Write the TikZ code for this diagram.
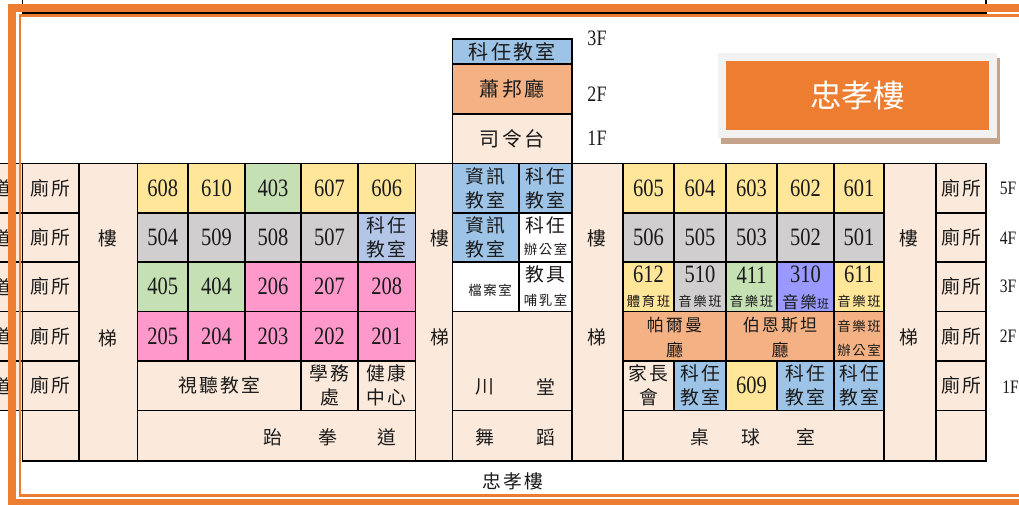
\documentclass[tikz,border=0pt]{standalone}
\usepackage{fontspec}
\setmainfont{Liberation Serif}
\newfontfamily\zh[LetterSpace=12]{Noto Sans CJK TC}
\newfontfamily\zhplain{Noto Sans CJK TC}
\newfontfamily\dg[FakeStretch=0.82]{Liberation Serif}
\definecolor{cyel}{HTML}{FFE699}
\definecolor{cgry}{HTML}{D0CECE}
\definecolor{cgrn}{HTML}{C5E0B3}
\definecolor{cpnk}{HTML}{FF99CC}
\definecolor{cblu}{HTML}{9DC3E6}
\definecolor{clbl}{HTML}{B4C6E7}
\definecolor{corg}{HTML}{F4B183}
\definecolor{cpch}{HTML}{FBE9DB}
\definecolor{cvio}{HTML}{9999FF}
\definecolor{cfrm}{HTML}{ED7D31}
\definecolor{cshd}{HTML}{C5A38A}
\definecolor{cink}{HTML}{1A1A1A}
\newcommand{\szm}{\zh\fontsize{18.8}{22}\selectfont}
\newcommand{\szl}{\zh\fontsize{20}{24}\selectfont}
\newcommand{\szh}{\zh\fontsize{17}{20}\selectfont}
\newcommand{\szs}{\zh\fontsize{13.4}{16}\selectfont}
\newcommand{\szd}{\dg\fontsize{25}{28}\selectfont}
\newcommand{\szf}{\dg\fontsize{19}{22}\selectfont}
\newcommand{\szt}{\dg\fontsize{22}{25}\selectfont}
\def\yA{163.5}\def\yB{213}\def\yC{262}\def\yD{311.5}\def\yE{361}\def\yF{410.5}\def\yG{461}
\tikzset{
  room/.style={draw=black,line width=1.9pt,inner sep=0pt,outer sep=0pt,font=\szd,text=cink},
  lbl/.style={inner sep=0pt,outer sep=0pt,font=\szm,text=cink},
  yel/.style={fill=cyel},gry/.style={fill=cgry},grn/.style={fill=cgrn},pnk/.style={fill=cpnk},
  blu/.style={fill=cblu},lbu/.style={fill=clbl},org/.style={fill=corg},pch/.style={fill=cpch},
  vio/.style={fill=cvio},wht/.style={fill=white}
}
\newcommand{\room}[7][]{%
  \pgfmathsetmacro\cw{#5-#3}\pgfmathsetmacro\ch{#6-#4}%
  \pgfmathsetmacro\cx{(#3+#5)/2}\pgfmathsetmacro\cy{(#4+#6)/2}%
  \node[room,#1,minimum width=\cw pt,minimum height=\ch pt] (#2) at (\cx,\cy) {#7};}
\newcommand{\twin}[8][]{%
  \room[#1]{#2}{#3}{#4}{#5}{#6}{}%
  \pgfmathsetmacro\tx{(#3+#5)/2}\pgfmathsetmacro\ta{(#4+#6)/2-\upo}\pgfmathsetmacro\tb{(#4+#6)/2+\dno}%
  \node[lbl] (#2-a) at (\tx,\ta) {#7};
  \node[lbl] (#2-b) at (\tx,\tb) {#8};}
\def\upo{12}\def\dno{12}
\begin{document}
\begin{tikzpicture}[x=1pt,y=-1pt]
\useasboundingbox (0,0) rectangle (1019,504);
\clip (0,0) rectangle (1019,504);
% top black remnant
\draw[line width=1.5pt] (22.7,-5) -- (22.7,13) -- (986,13) -- (986,-5);
% top block
\room[blu]{topa}{452.5}{39}{572}{64}{\szl 科任教室}
\room[org]{topb}{452.5}{64}{572}{114}{\szl 蕭邦廳}
\room[pch]{topc}{452.5}{114}{572}{\yA}{\szl 司令台}
\node[lbl,font=\szt] (f3t) at (597,38) {3F};
\node[lbl,font=\szt] (f2t) at (597,94) {2F};
\node[lbl,font=\szt] (f1t) at (597,138) {1F};
% left clipped corridor
\room[pch]{d5}{-10}{\yA}{22.5}{\yB}{}
\room[pch]{d4}{-10}{\yB}{22.5}{\yC}{}
\room[pch]{d3}{-10}{\yC}{22.5}{\yD}{}
\room[pch]{d2}{-10}{\yD}{22.5}{\yE}{}
\room[pch]{d1}{-10}{\yE}{22.5}{\yF}{}
\node[lbl] (dt5) at (2,188) {道};
\node[lbl] (dt4) at (2,238) {道};
\node[lbl] (dt3) at (2,287) {道};
\node[lbl] (dt2) at (2,336) {道};
\node[lbl] (dt1) at (2,386) {道};
% left toilets
\room[pch]{wl5}{22.5}{\yA}{79}{\yB}{\szm 廁所}
\room[pch]{wl4}{22.5}{\yB}{79}{\yC}{\szm 廁所}
\room[pch]{wl3}{22.5}{\yC}{79}{\yD}{\szm 廁所}
\room[pch]{wl2}{22.5}{\yD}{79}{\yE}{\szm 廁所}
\room[pch]{wl1}{22.5}{\yE}{79}{\yF}{\szm 廁所}
\room[pch]{wl0}{22.5}{\yF}{79}{\yG}{}
% stairs
\room[pch]{st1}{79}{\yA}{137.5}{\yG}{}
\room[pch]{st2}{415.5}{\yA}{452.5}{\yG}{}
\room[pch]{st3}{572}{\yA}{623}{\yG}{}
\room[pch]{st4}{884}{\yA}{936}{\yG}{}
\node[lbl] (s1a) at (108,238) {樓}; \node[lbl] (s1b) at (108,338) {梯};
\node[lbl] (s2a) at (440,238) {樓}; \node[lbl] (s2b) at (440,337) {梯};
\node[lbl] (s3a) at (597,238) {樓}; \node[lbl] (s3b) at (597,337) {梯};
\node[lbl] (s4a) at (909,238) {樓}; \node[lbl] (s4b) at (909,337) {梯};
% 5F
\room[yel]{r608}{137.5}{\yA}{188}{\yB}{608}
\room[yel]{r610}{188}{\yA}{245}{\yB}{610}
\room[grn]{r403}{245}{\yA}{301}{\yB}{403}
\room[yel]{r607}{301}{\yA}{358}{\yB}{607}
\room[yel]{r606}{358}{\yA}{415.5}{\yB}{606}
\twin[blu]{ca}{452.5}{\yA}{519}{\yB}{資訊}{教室}
\twin[blu]{cb}{519}{\yA}{572}{\yB}{科任}{教室}
\room[yel]{r605}{623}{\yA}{674}{\yB}{605}
\room[yel]{r604}{674}{\yA}{726}{\yB}{604}
\room[yel]{r603}{726}{\yA}{777}{\yB}{603}
\room[yel]{r602}{777}{\yA}{834}{\yB}{602}
\room[yel]{r601}{834}{\yA}{884}{\yB}{601}
% 4F
\room[gry]{r504}{137.5}{\yB}{188}{\yC}{504}
\room[gry]{r509}{188}{\yB}{245}{\yC}{509}
\room[gry]{r508}{245}{\yB}{301}{\yC}{508}
\room[gry]{r507}{301}{\yB}{358}{\yC}{507}
\twin[lbu]{cc}{358}{\yB}{415.5}{\yC}{科任}{教室}
\twin[blu]{cd}{452.5}{\yB}{519}{\yC}{資訊}{教室}
\twin[wht]{ce}{519}{\yB}{572}{\yC}{科任}{\szs 辦公室}
\room[gry]{r506}{623}{\yB}{674}{\yC}{506}
\room[gry]{r505}{674}{\yB}{726}{\yC}{505}
\room[gry]{r503}{726}{\yB}{777}{\yC}{503}
\room[gry]{r502}{777}{\yB}{834}{\yC}{502}
\room[gry]{r501}{834}{\yB}{884}{\yC}{501}
% 3F
\room[grn]{r405}{137.5}{\yC}{188}{\yD}{405}
\room[grn]{r404}{188}{\yC}{245}{\yD}{404}
\room[pnk]{r206}{245}{\yC}{301}{\yD}{206}
\room[pnk]{r207}{301}{\yC}{358}{\yD}{207}
\room[pnk]{r208}{358}{\yC}{415.5}{\yD}{208}
\room[wht]{cf}{452.5}{\yC}{519}{\yD}{}
\node[lbl,font=\szs] (cft) at (490,290) {檔案室};
\def\upo{12}\def\dno{13.5}
\twin[wht]{cg}{519}{\yC}{572}{\yD}{教具}{\szs 哺乳室}
\def\upo{12}\def\dno{15}
\twin[yel]{r612}{623}{\yC}{674}{\yD}{\szd 612}{\szs 體育班}
\twin[gry]{r510}{674}{\yC}{726}{\yD}{\szd 510}{\szs 音樂班}
\twin[grn]{r411}{726}{\yC}{777}{\yD}{\szd 411}{\szs 音樂班}
\twin[vio]{r310}{777}{\yC}{834}{\yD}{\szd 310}{\zh\fontsize{16.5}{18}\selectfont 音樂\fontsize{12}{18}\selectfont 班}
\twin[yel]{r611}{834}{\yC}{884}{\yD}{\szd 611}{\szs 音樂班}
% 2F
\room[pnk]{r205}{137.5}{\yD}{188}{\yE}{205}
\room[pnk]{r204}{188}{\yD}{245}{\yE}{204}
\room[pnk]{r203}{245}{\yD}{301}{\yE}{203}
\room[pnk]{r202}{301}{\yD}{358}{\yE}{202}
\room[pnk]{r201}{358}{\yD}{415.5}{\yE}{201}
\def\upo{11}\def\dno{14}
\twin[org]{ch}{623}{\yD}{726}{\yE}{\szh 帕爾曼}{\szh 廳}
\twin[org]{ci}{726}{\yD}{834}{\yE}{\szh 伯恩斯坦}{\szh 廳}
\def\upo{10}\def\dno{14}
\twin[org]{cj}{834}{\yD}{884}{\yE}{\szs 音樂班}{\szs 辦公室}
% 1F
\def\upo{12}\def\dno{12}
\room[pch]{ck}{137.5}{\yE}{301}{\yF}{\szm 視聽教室}
\twin[pch]{cl}{301}{\yE}{358}{\yF}{學務}{處}
\twin[pch]{cm}{358}{\yE}{415.5}{\yF}{健康}{中心}
\room[pch]{cn}{452.5}{\yD}{572}{\yF}{}
\node[lbl] (cna) at (485,387) {川}; \node[lbl] (cnb) at (545.5,387) {堂};
\twin[pch]{co}{623}{\yE}{674}{\yF}{家長}{會}
\twin[blu]{cp}{674}{\yE}{726}{\yF}{科任}{教室}
\room[yel]{r609}{726}{\yE}{777}{\yF}{609}
\twin[blu]{cq}{777}{\yE}{834}{\yF}{科任}{教室}
\twin[blu]{cr}{834}{\yE}{884}{\yF}{科任}{教室}
% bottom row
\room[pch]{cs}{137.5}{\yF}{415.5}{\yG}{}
\node[lbl] (csa) at (273,437) {跆}; \node[lbl] (csb) at (328,437) {拳}; \node[lbl] (csc) at (387,437) {道};
\room[pch]{ct}{452.5}{\yF}{572}{\yG}{}
\node[lbl] (cta) at (485,437) {舞}; \node[lbl] (ctb) at (545.5,437) {蹈};
\room[pch]{cu}{623}{\yF}{884}{\yG}{}
\node[lbl] (cua) at (700,437) {桌}; \node[lbl] (cub) at (751,437) {球}; \node[lbl] (cuc) at (806,437) {室};
% right toilets
\room[pch]{wr5}{936}{\yA}{986}{\yB}{\szm 廁所}
\room[pch]{wr4}{936}{\yB}{986}{\yC}{\szm 廁所}
\room[pch]{wr3}{936}{\yC}{986}{\yD}{\szm 廁所}
\room[pch]{wr2}{936}{\yD}{986}{\yE}{\szm 廁所}
\room[pch]{wr1}{936}{\yE}{986}{\yF}{\szm 廁所}
\room[pch]{wr0}{936}{\yF}{986}{\yG}{}
% floor labels
\node[lbl,font=\szf] (f5) at (1008,188) {5F};
\node[lbl,font=\szf] (f4) at (1008,238) {4F};
\node[lbl,font=\szf] (f3) at (1008,286) {3F};
\node[lbl,font=\szf] (f2) at (1008,336) {2F};
\node[lbl,font=\szf] (f1) at (1010.5,387) {1F};
\node[lbl] (cap) at (513,481) {忠孝樓};
% title
\fill[cshd] (721,58) rectangle (1000,143.5);
\fill[gray!10] (718,53) rectangle (997,138);
\node[fill=cfrm,inner sep=0pt,outer sep=0pt,minimum width=263pt,minimum height=69pt,text=white,font={\zhplain\fontsize{31.5}{36}\selectfont}] (title) at (857.5,95.5) {忠孝樓};
% frames
\draw[cfrm,line width=8pt] (1030,8) -- (12,8) -- (12,503) -- (1030,503);
\draw[cfrm,line width=2.6pt] (1030,15.3) -- (19.8,15.3) -- (19.8,495.2) -- (1030,495.2);
\end{tikzpicture}
\end{document}
